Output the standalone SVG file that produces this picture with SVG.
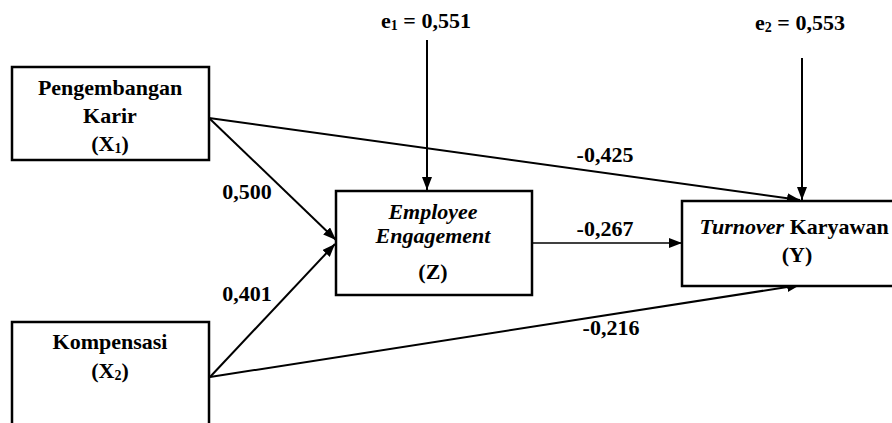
<svg xmlns="http://www.w3.org/2000/svg" width="892" height="423" viewBox="0 0 892 423">
<defs>
<marker id="ah" markerUnits="userSpaceOnUse" markerWidth="14" markerHeight="10" refX="13" refY="5" orient="auto">
<path d="M0,0 L13,5 L0,10 Z" fill="#000"/>
</marker>
<style>
.box{fill:#fff;stroke:#000;stroke-width:2.5}
.t{font-size:22px;font-weight:bold;fill:#000;text-anchor:middle}
.it{font-style:italic}
.ln{stroke:#000;stroke-width:2;fill:none;marker-end:url(#ah)}
.sub{font-size:14px}
</style>
</defs>
<rect width="892" height="423" fill="#fff"/>
<g font-family="'Liberation Serif', 'Times New Roman', 'DejaVu Serif', serif">
<g id="connectors">
<line class="ln" x1="209" y1="118" x2="800" y2="200"/>
<line class="ln" x1="209" y1="118" x2="336" y2="240"/>
<line class="ln" x1="210" y1="377" x2="335" y2="244"/>
<line class="ln" x1="210" y1="377" x2="800" y2="285"/>
<line class="ln" x1="532" y1="243" x2="682" y2="243" style="stroke-width:1.5"/>
<line class="ln" x1="427" y1="40" x2="427" y2="190"/>
<line class="ln" x1="802" y1="58" x2="802" y2="200"/>
<text class="t" x="247" y="199">0,500</text>
<text class="t" x="247" y="301">0,401</text>
<text class="t" x="605" y="162">-0,425</text>
<text class="t" x="605" y="236">-0,267</text>
<text class="t" x="611" y="335">-0,216</text>
</g>
<g id="e1"><text class="t" x="426" y="28">e<tspan class="sub" dy="2">1</tspan><tspan dy="-2"> = 0,551</tspan></text></g>
<g id="e2"><text class="t" x="800" y="30">e<tspan class="sub" dy="2">2</tspan><tspan dy="-2"> = 0,553</tspan></text></g>
<g id="X1">
<rect class="box" x="12" y="67" width="197" height="93"/>
<text class="t" x="110" y="95">Pengembangan</text>
<text class="t" x="110" y="123">Karir</text>
<text class="t" x="110" y="151">(X<tspan class="sub" dy="2">1</tspan><tspan dy="-2">)</tspan></text>
</g>
<g id="X2">
<rect class="box" x="12" y="322" width="197" height="120"/>
<text class="t" x="110" y="349">Kompensasi</text>
<text class="t" x="110" y="378">(X<tspan class="sub" dy="2">2</tspan><tspan dy="-2">)</tspan></text>
</g>
<g id="Z">
<rect class="box" x="336" y="191" width="196" height="104"/>
<text class="t it" x="433" y="219">Employee</text>
<text class="t it" x="433" y="243">Engagement</text>
<text class="t" x="433" y="279">(Z)</text>
</g>
<g id="Y">
<rect class="box" x="682" y="201" width="228" height="85"/>
<text class="t" x="794" y="234"><tspan class="it">Turnover</tspan> Karyawan</text>
<text class="t" x="797" y="262">(Y)</text>
</g>
</g>
</svg>
